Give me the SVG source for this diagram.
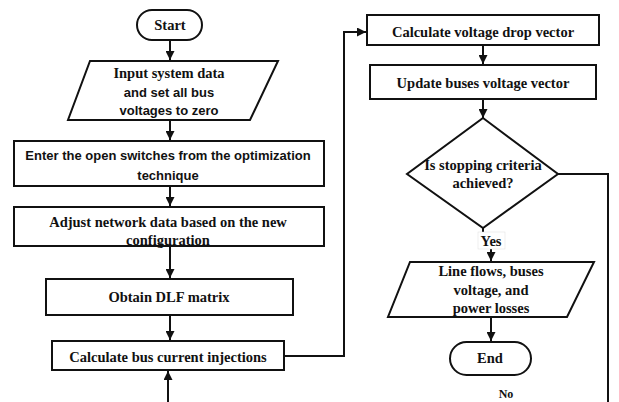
<svg xmlns="http://www.w3.org/2000/svg" width="619" height="402" viewBox="0 0 619 402">
<style>
.shape{fill:#fff;stroke:#111;stroke-width:2}
.conn{fill:none;stroke:#111;stroke-width:2}
.t{font-family:"Liberation Serif","Times New Roman",serif;font-weight:bold;font-size:14.5px;fill:#111;text-anchor:middle}
.s{font-family:"Liberation Sans",Arial,sans-serif;font-weight:bold;font-size:13px;fill:#111;text-anchor:middle}
</style>
<defs>
<marker id="ah" viewBox="0 0 10 10" refX="10" refY="5" markerWidth="9" markerHeight="9" markerUnits="userSpaceOnUse" orient="auto">
<path d="M0,0 L10,5 L0,10 z" fill="#111"/>
</marker>
</defs>
<rect width="619" height="402" fill="#fff"/>
<g id="connectors">
<line class="conn" x1="170" y1="40" x2="170" y2="60" marker-end="url(#ah)"/>
<line class="conn" x1="170" y1="120" x2="170" y2="140" marker-end="url(#ah)"/>
<line class="conn" x1="170" y1="186" x2="170" y2="206" marker-end="url(#ah)"/>
<line class="conn" x1="170" y1="246" x2="170" y2="278" marker-end="url(#ah)"/>
<line class="conn" x1="170" y1="315" x2="170" y2="340" marker-end="url(#ah)"/>
<line class="conn" x1="168" y1="402" x2="168" y2="371" marker-end="url(#ah)"/>
<polyline class="conn" points="284,356 344,356 344,32 366,32" marker-end="url(#ah)"/>
<line class="conn" x1="483" y1="45" x2="483" y2="64" marker-end="url(#ah)"/>
<line class="conn" x1="483" y1="99" x2="483" y2="118" marker-end="url(#ah)"/>
<line class="conn" x1="483" y1="228" x2="483" y2="234"/>
<line class="conn" x1="491" y1="249" x2="491" y2="261" marker-end="url(#ah)"/>
<line class="conn" x1="491" y1="317" x2="491" y2="341" marker-end="url(#ah)"/>
<polyline class="conn" points="558,174 608,174 608,402"/>
<rect x="478" y="232" width="27" height="17" fill="#fff" stroke="#ddd" stroke-width="0.5"/>
<text class="t" x="491" y="246">Yes</text>
<text class="t" x="506" y="398" style="font-size:12px">No</text>
</g>
<g id="start">
<rect class="shape" x="137" y="10" width="65" height="30" rx="15"/>
<text class="t" x="170" y="30">Start</text>
</g>
<g id="input">
<polygon class="shape" points="90,61 278,61 250,120 68,120"/>
<text class="t" x="169" y="78">Input system data</text>
<text class="s" x="169" y="97">and set all bus</text>
<text class="s" x="169" y="115">voltages to zero</text>
</g>
<g id="enter">
<rect class="shape" x="14" y="141" width="310" height="45"/>
<text class="s" x="168" y="160">Enter the open switches from the optimization</text>
<text class="s" x="168" y="180">technique</text>
</g>
<g id="adjust">
<rect class="shape" x="14" y="207" width="310" height="39"/>
<text class="t" x="168" y="227">Adjust network data based on the new</text>
<text class="t" x="168" y="245">configuration</text>
</g>
<g id="dlf">
<rect class="shape" x="46" y="279" width="247" height="36"/>
<text class="t" x="169" y="302">Obtain DLF matrix</text>
</g>
<g id="current">
<rect class="shape" x="52" y="341" width="232" height="29"/>
<text class="t" x="168" y="362">Calculate bus current injections</text>
</g>
<g id="vdrop">
<rect class="shape" x="367" y="15" width="232" height="30"/>
<text class="t" x="483" y="37">Calculate voltage drop vector</text>
</g>
<g id="update">
<rect class="shape" x="370" y="65" width="226" height="34"/>
<text class="t" x="483" y="88">Update buses voltage vector</text>
</g>
<g id="decision">
<polygon class="shape" points="483,118 558,174 483,228 407,174"/>
<text class="t" x="483" y="170">Is stopping criteria</text>
<text class="t" x="483" y="188">achieved?</text>
</g>
<g id="output">
<polygon class="shape" points="410,262 594,262 567,317 388,317"/>
<text class="t" x="491" y="276">Line flows, buses</text>
<text class="t" x="491" y="295">voltage, and</text>
<text class="t" x="491" y="313">power losses</text>
</g>
<g id="end">
<rect class="shape" x="450" y="342" width="81" height="33" rx="16.5"/>
<text class="t" x="490" y="363">End</text>
</g>
</svg>
